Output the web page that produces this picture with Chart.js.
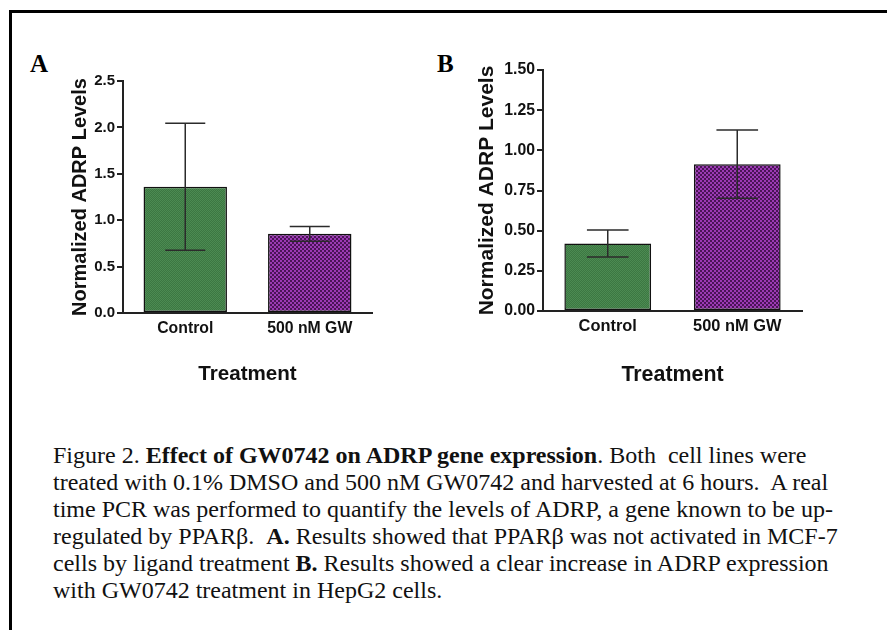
<!DOCTYPE html>
<html>
<head>
<meta charset="utf-8">
<script src="https://cdn.jsdelivr.net/npm/chart.js@4.4.0/dist/chart.umd.min.js"></script>
<style>
  body { margin: 0; width: 887px; height: 630px; overflow: hidden; background: #fff; position: relative; }
  .frame { position: absolute; left: 9px; top: 10px; width: 900px; height: 700px; border-top: 3px solid #000; border-left: 3px solid #000; }
  .panel { position: absolute; font-family: "Liberation Serif", "Times New Roman", serif; font-weight: bold; font-size: 25px; line-height: 25px; color: #000; }
  canvas { position: absolute; }
  .caption { position: absolute; left: 53px; top: 442px; font-family: "Liberation Serif", "Times New Roman", serif; font-size: 24px; line-height: 27px; color: #111; white-space: pre; }
</style>
</head>
<body>
<div class="frame"></div>
<div class="panel" style="left:30px; top:51px;">A</div>
<div class="panel" style="left:437px; top:51px;">B</div>
<canvas id="chartA" width="360" height="350" style="left:20px; top:40px;"></canvas>
<canvas id="chartB" width="350" height="350" style="left:460px; top:40px;"></canvas>
<div class="caption">Figure 2. <b>Effect of GW0742 on ADRP gene expression</b>. Both  cell lines were
treated with 0.1% DMSO and 500 nM GW0742 and harvested at 6 hours.  A real
time PCR was performed to quantify the levels of ADRP, a gene known to be up-
regulated by PPARβ.  <b>A.</b> Results showed that PPARβ was not activated in MCF-7
cells by ligand treatment <b>B.</b> Results showed a clear increase in ADRP expression
with GW0742 treatment in HepG2 cells.</div>
<script>
// values (mean and error bar half-length)
const categories = ['Control', '500 nM GW'];
const meanA = [1.36, 0.853];
const errA = [0.685, 0.08];
const meanB = [0.42, 0.914];
const errB = [0.084, 0.213];
const yTicksA = [0, 0.5, 1.0, 1.5, 2.0, 2.5];
const yTicksB = [0, 0.25, 0.5, 0.75, 1.0, 1.25, 1.5];

const sans = '"Liberation Sans", Arial, sans-serif';

function makePattern(c1, c2, size) {
    let pc = document.createElement('canvas');
    pc.width = size * 2;
    pc.height = size * 2;
    let p = pc.getContext('2d');
    p.fillStyle = c1;
    p.fillRect(0, 0, size * 2, size * 2);
    p.fillStyle = c2;
    p.fillRect(0, 0, size, size);
    p.fillRect(size, size, size, size);
    return p.createPattern(pc, 'repeat');
}

// draws the error bars using the chart's own y scale
const errorBars = {
    id: 'errorBars',
    afterDatasetsDraw(chart, args, opts) {
        let ctx = chart.ctx;
        let y = chart.scales.y;
        let means = chart.data.datasets[0].data;
        let meta = chart.getDatasetMeta(0);
        ctx.save();
        ctx.strokeStyle = '#2b2b2b';
        ctx.lineWidth = 1.5;
        meta.data.forEach(function(bar, i) {
            let top = y.getPixelForValue(means[i] + opts.errors[i]);
            let bot = y.getPixelForValue(means[i] - opts.errors[i]);
            let half = bar.width * 0.24;
            ctx.beginPath();
            ctx.moveTo(bar.x, top);
            ctx.lineTo(bar.x, bot);
            ctx.moveTo(bar.x - half, top);
            ctx.lineTo(bar.x + half, top);
            ctx.moveTo(bar.x - half, bot);
            ctx.lineTo(bar.x + half, bot);
            ctx.stroke();
        });
        ctx.restore();
    }
};

function buildChart(id, means, errs, ticks, decimals, cfg) {
    let ctx = document.getElementById(id).getContext('2d');
    let green = makePattern('#3c7742', '#4c8b52', 1);
    let purple = makePattern('#4a1457', '#9c3ab4', 2);
    return new Chart(ctx, {
        type: 'bar',
        data: {
            labels: categories,
            datasets: [{
                data: means,
                backgroundColor: [green, purple],
                borderColor: '#111',
                borderWidth: 1.5,
                borderSkipped: false,
                barPercentage: 0.67,
                categoryPercentage: 1.0
            }]
        },
        plugins: [errorBars],
        options: {
            responsive: false,
            animation: false,
            layout: { padding: { top: cfg.padTop, right: 8, left: 0, bottom: 0 } },
            plugins: {
                legend: { display: false },
                tooltip: { enabled: false },
                errorBars: { errors: errs }
            },
            scales: {
                x: {
                    afterFit: function(scale) { scale.height = cfg.xHeight; },
                    grid: { display: false, drawTicks: false },
                    border: { color: '#222', width: 2 },
                    ticks: {
                        color: '#111',
                        padding: 6,
                        font: { family: sans, size: cfg.xTickSize, weight: 'bold' }
                    },
                    title: {
                        display: true,
                        text: 'Treatment',
                        color: '#111',
                        padding: { top: 0, bottom: cfg.xTitlePad },
                        font: { family: sans, size: cfg.xTitleSize, weight: 'bold', lineHeight: 1.2 }
                    }
                },
                y: {
                    min: ticks[0],
                    max: ticks[ticks.length - 1],
                    afterFit: function(scale) { scale.width = cfg.yWidth; },
                    afterBuildTicks: function(scale) {
                        scale.ticks = ticks.map(function(v) { return { value: v }; });
                    },
                    grid: { drawOnChartArea: false, drawTicks: true, tickLength: 6, color: '#222', lineWidth: 2 },
                    border: { color: '#222', width: 2 },
                    ticks: {
                        color: '#111',
                        padding: 2,
                        font: { family: sans, size: cfg.yTickSize, weight: 'bold' },
                        callback: function(v) { return Number(v).toFixed(decimals); }
                    },
                    title: {
                        display: true,
                        text: 'Normalized ADRP Levels',
                        color: '#111',
                        padding: { top: cfg.yTitlePad, bottom: 0 },
                        font: { family: sans, size: cfg.titleSize, weight: 'bold', lineHeight: 1.2 }
                    }
                }
            }
        }
    });
}

var chartA = buildChart('chartA', meanA, errA, yTicksA, 1, {
    padTop: 41, xHeight: 77, yWidth: 103, yTitlePad: 48, xTitlePad: 3.5,
    titleSize: 20, xTitleSize: 20.6, xTickSize: 15.8, yTickSize: 15
});

var chartB = buildChart('chartB', meanB, errB, yTicksB, 2, {
    padTop: 30, xHeight: 79, yWidth: 83, yTitlePad: 14.4, xTitlePad: 2.4,
    titleSize: 21, xTitleSize: 21.4, xTickSize: 16.4, yTickSize: 15.8
});
</script>
</body>
</html>
